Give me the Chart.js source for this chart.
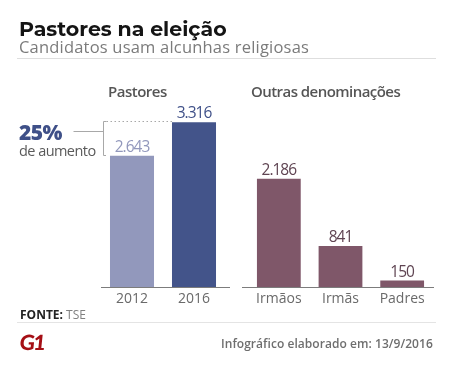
<!DOCTYPE html>
<html lang="pt-BR"><head><meta charset="utf-8">
<style>
html,body{margin:0;padding:0;background:#fff;width:454px;height:369px;overflow:hidden}
canvas{position:absolute;left:0;top:0}
.t{position:absolute;white-space:nowrap;line-height:1;font-family:"Open Sans",sans-serif}
.r{position:absolute;height:1px;background:#dedede}
</style></head><body>
<canvas id="a" width="454" height="369"></canvas>
<canvas id="b" width="454" height="369"></canvas>
<div class="t" style="left:19px;top:16px;font:700 20.5px Montserrat,Lato,'Noto Sans',sans-serif;color:#141414" id="ti">Pastores na eleição</div>
<div class="t" style="left:19px;top:39px;font-size:16.5px;color:#7b7b7b;letter-spacing:.2px">Candidatos usam alcunhas religiosas</div>
<div class="r" style="left:17px;top:58px;width:419px"></div>
<div class="t" style="left:108px;top:84px;font-size:15px;font-weight:600;color:#555;letter-spacing:-.5px">Pastores</div>
<div class="t" style="left:251px;top:84px;font-size:15px;font-weight:600;color:#555;letter-spacing:-.55px">Outras denominações</div>
<div class="t" style="left:19px;top:122px;font-size:21px;font-weight:800;color:#3f5088;letter-spacing:-.5px">25%</div>
<div class="t" style="left:19px;top:144px;font-size:14.5px;color:#5a5a5a;letter-spacing:-.55px">de aumento</div>
<div class="t" style="left:20px;top:309px;font-size:12px;font-weight:700;color:#222">FONTE: <span style="font-weight:400;color:#808080">TSE</span></div>
<div class="r" style="left:17px;top:322px;width:419px;background:#e4e4e4"></div>
<div class="t" style="left:20px;top:329px;font:900 21px Lato,sans-serif;color:#a50f15;letter-spacing:-1.5px;transform:skewX(-6deg)">G1</div>
<div class="t" style="left:221px;top:338px;font-size:12px;font-weight:600;color:#6e6e6e;letter-spacing:.05px">Infográfico elaborado em: 13/9/2016</div>
<script src="https://cdn.jsdelivr.net/npm/chart.js@4"></script>
<script>
const anos = ["2012","2016"];
const pastores = [2643,3316];
const coresPastores = ["#9298bc","#43548a"];
const coresRotulosPastores = ["#9298bc","#3f5088"];
const denominacoes = ["Irmãos","Irmãs","Padres"];
const outras = [2186,841,150];
const corOutras = "#7f5769";
const corRotuloOutras = "#5f4452";
const escalaMax = 3400;

const fmt = v => String(v).replace(/\B(?=(\d{3})+$)/g,".");
const rotulos = cores => ({
  id:"rotulos",
  afterDatasetsDraw(c){
    const x=c.ctx; x.save();
    x.font='15.5px "Open Sans",sans-serif'; x.textAlign="center"; x.textBaseline="alphabetic";
    try{x.letterSpacing="-1px"}catch(e){}
    c.getDatasetMeta(0).data.forEach((b,i)=>{
      x.fillStyle=Array.isArray(cores)?cores[i]:cores;
      x.fillText(fmt(c.data.datasets[0].data[i]),b.x,b.y-4);
    });
    x.restore();
  }
});
const base = (e,d)=>({
  id:"base",
  afterDatasetsDraw(c){
    const x=c.ctx,a=c.chartArea; x.save();
    x.strokeStyle="#7c7c7c"; x.lineWidth=1;
    x.beginPath(); x.moveTo(a.left-e,a.bottom-.5); x.lineTo(a.right+d,a.bottom-.5); x.stroke();
    x.restore();
  }
});
const colchete = {
  id:"colchete",
  afterDatasetsDraw(c){
    const x=c.ctx,b=c.getDatasetMeta(0).data,ax=c.chartArea.left+2.5;
    const yA=Math.round(b[1].y)-.5,yB=Math.round(b[0].y)-.5;
    x.save(); x.strokeStyle="#a8a8a8"; x.lineWidth=1;
    x.beginPath(); x.moveTo(ax+3,yA); x.lineTo(ax,yA); x.lineTo(ax,yB); x.lineTo(ax+2.5,yB);
    x.moveTo(ax,yA+10); x.lineTo(ax-30,yA+10); x.stroke();
    x.setLineDash([1.5,2.5]); x.beginPath(); x.moveTo(ax+3,yA); x.lineTo(b[1].x-b[1].width/2,yA); x.stroke();
    x.restore();
  }
};
const grafico=(id,labels,data,cores,left,right,plugins)=>new Chart(document.getElementById(id),{
  type:"bar",
  data:{labels,datasets:[{data,backgroundColor:cores,barPercentage:.71,categoryPercentage:1}]},
  plugins,
  options:{
    responsive:false,animation:false,events:[],
    layout:{padding:{left,right,top:118,bottom:0}},
    plugins:{legend:{display:false},title:{display:false},tooltip:{enabled:false}},
    scales:{
      x:{grid:{display:false,drawTicks:false},border:{display:false},
         ticks:{color:"#6a6a6a",padding:3,font:{family:'"Open Sans",sans-serif',size:14},maxRotation:0},
         afterFit(s){s.height=81}},
      y:{display:false,min:0,max:escalaMax}
    }
  }
});
grafico("a",anos,pastores,coresPastores,101,229,[rotulos(coresRotulosPastores),base(0,5),colchete]);
grafico("b",denominacoes,outras,corOutras,248,21,[rotulos(corRotuloOutras),base(6,1)]);
</script>
</body></html>
